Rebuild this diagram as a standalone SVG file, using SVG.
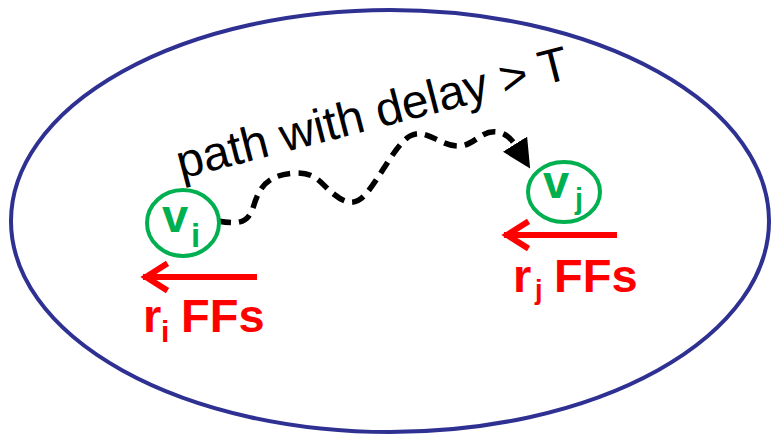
<svg xmlns="http://www.w3.org/2000/svg" width="771" height="437" viewBox="0 0 771 437">
  <defs>
    <style>
      .region { fill: #ffffff; stroke: #2E3192; stroke-width: 4; }
      .node { fill: none; stroke: #00B050; stroke-width: 4; }
      .node-label { font-family: "Liberation Sans", Arial, sans-serif; font-weight: bold; fill: #00B050; }
      .ff-arrow { fill: none; stroke: #FF0000; stroke-width: 6; stroke-linecap: square; }
      .ff-label { font-family: "Liberation Sans", Arial, sans-serif; font-weight: bold; fill: #FF0000; }
      .path-conn { fill: none; stroke: #000000; stroke-width: 5.5; stroke-dasharray: 13 8; }
      .path-label { font-family: "Liberation Sans", Arial, sans-serif; font-size: 48px; fill: #000000; }
    </style>
    <marker id="tri" viewBox="0 0 10 10" refX="2" refY="5" markerWidth="5.2" markerHeight="5.2" orient="auto" markerUnits="strokeWidth">
      <path d="M0,0 L10,5 L0,10 Z" fill="#000000"/>
    </marker>
  </defs>

  <!-- enclosing region -->
  <ellipse class="region" cx="390" cy="221" rx="379" ry="211"/>

  <!-- label of the long path -->
  <text class="path-label" x="181" y="179" transform="rotate(-14.5 181 179)">path with delay &gt; T</text>

  <!-- connectors -->
  <g id="connectors">
    <path class="path-conn" marker-end="url(#tri)" d="M218,221 C240,225 248,222 253,208 C259,188 266,175 295,173 C318,172 322,186 335,195 C345,203 355,206 365,195 C380,178 395,145 410,136 C425,127 440,146 458,146 C475,146 480,130 497,132 C507,133 513,141 518,149"/>
  </g>

  <!-- node v_i -->
  <g id="node-vi">
    <ellipse class="node" cx="183" cy="223" rx="36" ry="33"/>
    <text class="node-label" x="162" y="232" style="font-size:47px">v</text>
    <text class="node-label" x="191" y="247" style="font-size:33px">i</text>
  </g>

  <!-- node v_j -->
  <g id="node-vj">
    <ellipse class="node" cx="564" cy="192" rx="36" ry="30"/>
    <text class="node-label" x="543" y="198" style="font-size:47px">v</text>
    <text class="node-label" x="575" y="209" style="font-size:29px">j</text>
  </g>

  <!-- flip-flop count for v_i -->
  <g id="ff-i">
    <path class="ff-arrow" d="M254,277 L146,277 M165,265 L146,277 L165,289"/>
    <text class="ff-label" x="143" y="332" style="font-size:47px">r</text>
    <text class="ff-label" x="161" y="342" style="font-size:30px">i</text>
    <text class="ff-label" x="181" y="332" style="font-size:47px">FFs</text>
  </g>

  <!-- flip-flop count for v_j -->
  <g id="ff-j">
    <path class="ff-arrow" d="M614,235 L507,235 M526,223 L507,235 L526,247"/>
    <text class="ff-label" x="513" y="292" style="font-size:47px">r</text>
    <text class="ff-label" x="535" y="299" style="font-size:27px">j</text>
    <text class="ff-label" x="554" y="292" style="font-size:47px">FFs</text>
  </g>
</svg>
